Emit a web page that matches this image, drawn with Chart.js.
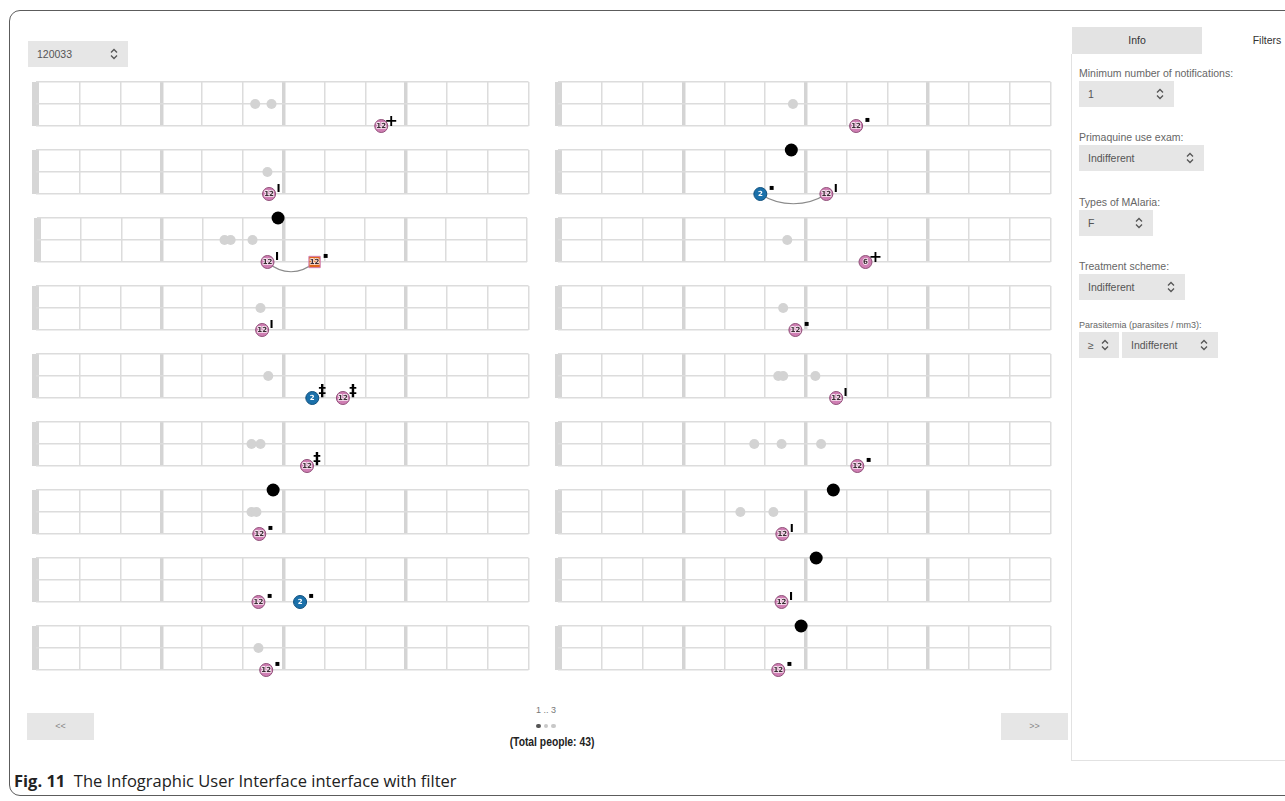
<!DOCTYPE html>
<html lang="en">
<head>
<meta charset="UTF-8">
<title>Infographic User Interface with filter</title>
<style>
    body {
        margin: 0;
        width: 1285px;
        height: 801px;
        overflow: hidden;
        background: #fff;
        position: relative;
        font-family: 'Liberation Sans', Arial, sans-serif;
        color: #444;
    }
    .frame {
        position: absolute;
        left: 9px; top: 10px;
        width: 1310px; height: 786px;
        border: 1.5px solid #5c5c5c;
        border-radius: 11px;
        box-sizing: border-box;
    }
    .sel {
        position: absolute;
        background: #e6e6e6;
        height: 26px;
        line-height: 26px;
        padding-left: 9px;
        box-sizing: border-box;
        font-size: 10.5px;
        color: #555;
    }
    .sel svg { position: absolute; right: 10px; top: 7px; }
    .lbl {
        position: absolute;
        left: 1079px;
        font-size: 10.5px;
        color: #666;
        white-space: nowrap;
    }
    .strip { position: absolute; width: 508px; height: 68px; }
    .panel {
        position: absolute;
        left: 1071px; top: 54px;
        width: 230px; height: 706px;
        border-left: 1px solid #e2e2e2;
        border-bottom: 1px solid #e2e2e2;
    }
    .tab {
        position: absolute;
        top: 27px; height: 27px; line-height: 27px;
        font-size: 10.5px; color: #333; text-align: center;
    }
    .btn {
        position: absolute;
        top: 713px; width: 67px; height: 27px; line-height: 27px;
        background: #e6e6e6; text-align: center;
        font-size: 9px; color: #888;
    }
    .pager {
        position: absolute; left: 446px; width: 200px; text-align: center;
    }
    .dot { display: inline-block; width: 4.5px; height: 4.5px; border-radius: 50%; margin: 0 1.5px; background: #c8c8c8; }
    .caption {
        position: absolute; left: 14px; top: 769px;
        font-family: 'Open Sans', 'Noto Sans', sans-serif;
        font-size: 16.5px; color: #222; white-space: nowrap;
    }
</style>
<script src="https://cdn.jsdelivr.net/npm/chart.js"></script>
</head>
<body>
<div class="frame"></div>

<div class="sel" style="left:28px; top:41px; width:100px;">120033<svg width="8" height="12" viewBox="0 0 8 12"><path d="M1 4.5 L4 1.5 L7 4.5 M1 7.5 L4 10.5 L7 7.5" fill="none" stroke="#555" stroke-width="1.3"/></svg></div>

<div id="strips"></div>

<div class="tab" style="left:1072px; width:130px; background:#e3e3e3;">Info</div>
<div class="tab" style="left:1240px; width:54px;">Filters</div>
<div class="panel"></div>

<div class="lbl" style="top:67px;">Minimum number of notifications:</div>
<div class="sel" style="left:1079px; top:81px; width:95px;">1<svg width="8" height="12" viewBox="0 0 8 12"><path d="M1 4.5 L4 1.5 L7 4.5 M1 7.5 L4 10.5 L7 7.5" fill="none" stroke="#555" stroke-width="1.3"/></svg></div>

<div class="lbl" style="top:131px;">Primaquine use exam:</div>
<div class="sel" style="left:1079px; top:145px; width:125px;">Indifferent<svg width="8" height="12" viewBox="0 0 8 12"><path d="M1 4.5 L4 1.5 L7 4.5 M1 7.5 L4 10.5 L7 7.5" fill="none" stroke="#555" stroke-width="1.3"/></svg></div>

<div class="lbl" style="top:196px;">Types of MAlaria:</div>
<div class="sel" style="left:1079px; top:210px; width:74px;">F<svg width="8" height="12" viewBox="0 0 8 12"><path d="M1 4.5 L4 1.5 L7 4.5 M1 7.5 L4 10.5 L7 7.5" fill="none" stroke="#555" stroke-width="1.3"/></svg></div>

<div class="lbl" style="top:260px;">Treatment scheme:</div>
<div class="sel" style="left:1079px; top:274px; width:106px;">Indifferent<svg width="8" height="12" viewBox="0 0 8 12"><path d="M1 4.5 L4 1.5 L7 4.5 M1 7.5 L4 10.5 L7 7.5" fill="none" stroke="#555" stroke-width="1.3"/></svg></div>

<div class="lbl" style="top:320px; font-size:9px;">Parasitemia (parasites / mm3):</div>
<div class="sel" style="left:1079px; top:332px; width:40px;">≥<svg width="8" height="12" viewBox="0 0 8 12"><path d="M1 4.5 L4 1.5 L7 4.5 M1 7.5 L4 10.5 L7 7.5" fill="none" stroke="#555" stroke-width="1.3"/></svg></div>
<div class="sel" style="left:1122px; top:332px; width:96px;">Indifferent<svg width="8" height="12" viewBox="0 0 8 12"><path d="M1 4.5 L4 1.5 L7 4.5 M1 7.5 L4 10.5 L7 7.5" fill="none" stroke="#555" stroke-width="1.3"/></svg></div>

<div class="btn" style="left:27px;">&lt;&lt;</div>
<div class="btn" style="left:1001px;">&gt;&gt;</div>
<div class="pager" style="top:705px; font-size:9px; color:#777;">1 .. 3</div>
<div class="pager" style="top:719px; line-height:8px;"><span class="dot" style="background:#555;"></span><span class="dot"></span><span class="dot"></span></div>
<div class="pager" style="left:452px; top:735px; font-size:12px; font-weight:bold; color:#222; transform:scaleX(0.86);">(Total people: 43)</div>

<div class="caption"><b>Fig. 11</b>&nbsp; The Infographic User Interface interface with filter</div>

<script>
// 18 timelines: left column first (rows 1-9), then right column (rows 1-9)
// x = month position on the timeline, 0..12
const monthTicks = [1, 2, 3, 4, 5, 6, 7, 8, 9, 10, 11, 12];

// grey dots on the middle line
const greyDots = [
    [5.30, 5.70], [5.60], [4.54, 4.69, 5.23], [5.43], [5.62], [5.21, 5.43], [5.21, 5.33], [], [5.38],
    [5.68], [], [5.54], [5.44], [5.32, 5.44, 6.23], [4.73, 5.40, 6.37], [4.39, 5.20], [], []
];
// black dots on the top line
const blackDots = [
    [], [], [5.86], [], [], [], [5.74], [], [],
    [], [5.64], [], [], [], [], [6.67], [6.25], [5.88]
];
// notifications on the bottom line
const eventX = [
    [8.39], [5.64], [5.60, 6.76], [5.47], [6.70, 7.45], [6.57], [5.40], [5.38, 6.40], [5.57],
    [7.23], [4.88, 6.50], [7.46], [5.74], [6.74], [7.26], [5.42], [5.40], [5.32]
];
const eventDose = [
    [12], [12], [12, 12], [12], [2, 12], [12], [12], [12, 2], [12],
    [12], [2, 12], [6], [12], [12], [12], [12], [12], [12]
];
// p = pink circle, b = blue circle, o = orange square
const eventKind = [
    ['p'], ['p'], ['p', 'o'], ['p'], ['b', 'p'], ['p'], ['p'], ['p', 'b'], ['p'],
    ['p'], ['b', 'p'], ['p'], ['p'], ['p'], ['p'], ['p'], ['p'], ['p']
];
const eventMark = [
    ['+'], ['I'], ['I', '▪'], ['I'], ['‡', '‡'], ['‡'], ['▪'], ['▪', '▪'], ['▪'],
    ['▪'], ['▪', 'I'], ['+'], ['▪'], ['I'], ['▪'], ['I'], ['I'], ['▪']
];
// pairs of notifications joined by a curve
const eventLinks = [
    null, null, [0, 1], null, null, null, null, null, null,
    null, [0, 1], null, null, null, null, null, null, null
];

const kindFill = { p: '#d07fb4', b: '#1a70aa', o: '#e0651c' };
const kindEdge = { p: '#8f4f78', b: '#0f4f7d', o: '#d07fb4' };
const markFont = {
    '+': 'bold 16px "DejaVu Sans"',
    'I': 'bold 11px "DejaVu Sans"',
    '‡': 'bold 15px "DejaVu Sans"',
    '▪': 'bold 8px "DejaVu Sans"'
};
const markShift = { '+': [10, -4], 'I': [9.5, -4.5], '‡': [10, -5.5], '▪': [11, -6] };
const barWidth = 7;
const cellPx = 40.9;
const xStart = -(barWidth / 2) / cellPx;

const eventMarks = {
    id: 'eventMarks',
    beforeDatasetsDraw(chart, args, opts) {
        const link = eventLinks[opts.strip];
        if (!link) return;
        const pts = chart.getDatasetMeta(2).data;
        const a = pts[link[0]], b = pts[link[1]];
        const dx = b.x - a.x;
        const ctx = chart.ctx;
        ctx.save();
        ctx.strokeStyle = '#8a8a8a';
        ctx.lineWidth = 1.2;
        ctx.beginPath();
        ctx.moveTo(a.x, a.y);
        ctx.bezierCurveTo(a.x + dx * 0.3, a.y + 13, b.x - dx * 0.3, b.y + 13, b.x, b.y);
        ctx.stroke();
        ctx.restore();
    },
    afterDatasetsDraw(chart, args, opts) {
        const i = opts.strip;
        const ctx = chart.ctx;
        chart.getDatasetMeta(2).data.forEach((pt, k) => {
            ctx.save();
            ctx.textAlign = 'center';
            ctx.textBaseline = 'middle';
            ctx.font = 'bold 7px "DejaVu Sans"';
            const kind = eventKind[i][k];
            if (kind === 'b') {
                ctx.fillStyle = '#fff';
            } else {
                ctx.lineWidth = 1.6;
                ctx.strokeStyle = 'rgba(255,255,255,0.8)';
                ctx.strokeText(eventDose[i][k], pt.x, pt.y + 0.5);
                ctx.fillStyle = '#3a2a33';
            }
            ctx.fillText(eventDose[i][k], pt.x, pt.y + 0.5);
            const m = eventMark[i][k];
            ctx.fillStyle = '#000';
            ctx.font = markFont[m];
            ctx.fillText(m, pt.x + markShift[m][0], pt.y + markShift[m][1]);
            ctx.restore();
        });
    }
};

function stripConfig(i) {
    const kinds = eventKind[i];
    return {
        type: 'scatter',
        data: {
            datasets: [
                {
                    data: greyDots[i].map(x => ({ x: x, y: 1 })),
                    pointRadius: 5, backgroundColor: '#d3d3d3', borderWidth: 0, clip: false
                },
                {
                    data: blackDots[i].map(x => ({ x: x, y: 2 })),
                    pointRadius: 6.5, backgroundColor: '#000', borderWidth: 0, clip: false
                },
                {
                    data: eventX[i].map(x => ({ x: x, y: 0 })),
                    pointStyle: kinds.map(k => k === 'o' ? 'rect' : 'circle'),
                    pointRadius: kinds.map(k => k === 'o' ? 8 : 6.5),
                    backgroundColor: kinds.map(k => kindFill[k]),
                    borderColor: kinds.map(k => kindEdge[k]),
                    borderWidth: 1, clip: false
                }
            ]
        },
        options: {
            responsive: true,
            maintainAspectRatio: false,
            animation: false,
            events: [],
            layout: { padding: { left: i < 9 ? 7.5 : 8, right: 6, top: 12, bottom: 12 } },
            plugins: { legend: { display: false }, tooltip: { enabled: false }, eventMarks: { strip: i } },
            scales: {
                x: {
                    type: 'linear', min: xStart, max: 12,
                    afterBuildTicks: scale => {
                        scale.ticks = [{ value: xStart }].concat(monthTicks.map(v => ({ value: v })));
                    },
                    ticks: { display: false },
                    border: { display: false },
                    grid: {
                        drawTicks: false,
                        color: ctx => ctx.index === 0 ? '#d6d6d6' : (ctx.tick.value % 3 === 0 && ctx.tick.value < 12 ? '#d4d4d4' : '#dcdcdc'),
                        lineWidth: ctx => ctx.index === 0 ? barWidth : (ctx.tick.value % 3 === 0 && ctx.tick.value < 12 ? 3.5 : 1.5)
                    }
                },
                y: {
                    type: 'linear', min: 0, max: 2,
                    ticks: { display: false, stepSize: 1 },
                    border: { display: false },
                    grid: { drawTicks: false, color: '#dcdcdc', lineWidth: 1.5 }
                }
            }
        },
        plugins: [eventMarks]
    };
}

const holder = document.getElementById('strips');
for (let i = 0; i < 18; i++) {
    const col = i < 9 ? 0 : 1;
    const row = i % 9;
    const div = document.createElement('div');
    div.className = 'strip';
    div.style.left = (col === 0 ? 28 : 550) + 'px';
    div.style.top = (82 + 68 * row - 12) + 'px';
    const canvas = document.createElement('canvas');
    div.appendChild(canvas);
    holder.appendChild(div);
    new Chart(canvas, stripConfig(i));
}
</script>
</body>
</html>
